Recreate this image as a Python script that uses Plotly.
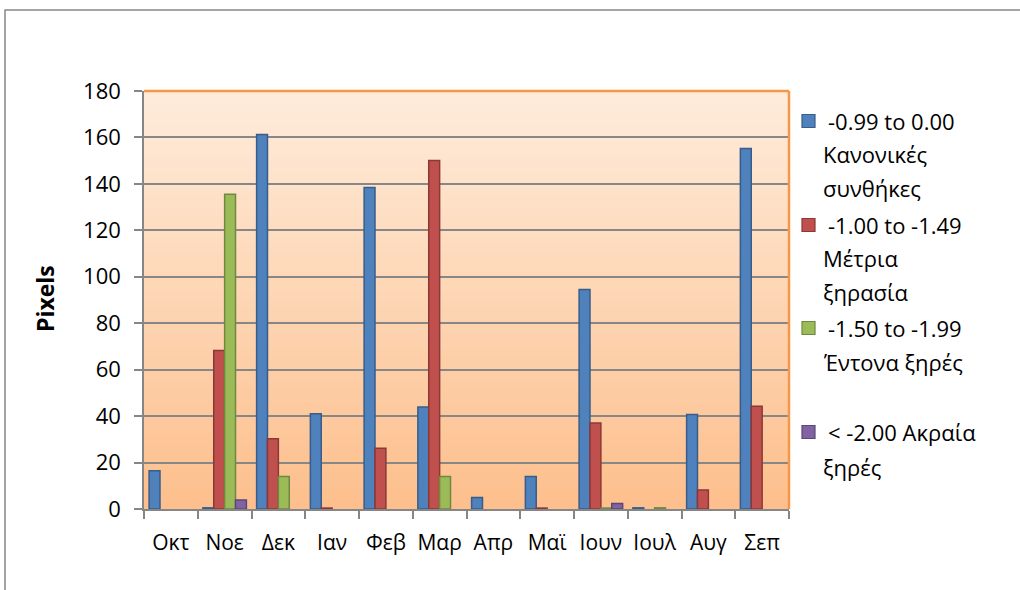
import plotly.graph_objects as go

months = ["Οκτ", "Νοε", "Δεκ", "Ιαν", "Φεβ", "Μαρ", "Απρ", "Μαϊ", "Ιουν", "Ιουλ", "Αυγ", "Σεπ"]

normal = [16.5, 0.5, 161.3, 41, 138.4, 43.9, 4.9, 14, 94.5, 0.5, 40.7, 155.2]
moderate = [None, 68.3, 30.2, 0.4, 26.2, 150.1, None, 0.4, 37, None, 8.2, 44.2]
severe = [None, 135.5, 14, None, None, 14, None, None, 0.4, 0.5, None, None]
extreme = [None, 3.9, None, None, None, None, None, None, 2.4, None, None, None]

series_names = [
    ["-0.99 to 0.00", "Κανονικές", "συνθήκες"],
    ["-1.00 to -1.49", "Μέτρια", "ξηρασία"],
    ["-1.50 to -1.99", "Έντονα ξηρές"],
    ["< -2.00 Ακραία", "ξηρές"],
]
series_values = [normal, moderate, severe, extreme]
fills = ["#4F81BD", "#C0504D", "#9BBB59", "#8064A2"]
edges = ["#385D8A", "#8C3836", "#71893F", "#5C4776"]

FONT = "Open Sans"
W, H = 1020, 590
L, R, T, B = 144, 231, 91, 81
PW, PH = W - L - R, H - T - B


def px(x):
    return (x - L) / PW


def py(y):
    return (H - B - y) / PH


fig = go.Figure()
for names, vals, fc, ec in zip(series_names, series_values, fills, edges):
    fig.add_trace(go.Bar(
        x=months, y=vals, name=" ".join(names),
        marker=dict(color=fc, line=dict(color=ec, width=1.5)),
        showlegend=False,
    ))

shapes = []
# gradient background
n = 60
top = (254, 236, 220)
bot = (253, 191, 140)
for i in range(n):
    t = (i + 0.5) / n
    c = tuple(round(top[k] + (bot[k] - top[k]) * t) for k in range(3))
    shapes.append(dict(type="rect", xref="x domain", yref="y domain",
                       x0=0, x1=1, y0=1 - (i + 1) / n, y1=1 - i / n + 0.002,
                       fillcolor="rgb(%d,%d,%d)" % c, line=dict(width=0), layer="below"))
# orange plot border (top and right)
shapes.append(dict(type="line", xref="x domain", yref="y domain", x0=0, x1=1, y0=1, y1=1,
                   line=dict(color="#F79646", width=2.5), layer="above"))
shapes.append(dict(type="line", xref="x domain", yref="y domain", x0=1, x1=1, y0=0, y1=1,
                   line=dict(color="#F79646", width=2.5), layer="above"))
# outer chart border
shapes.append(dict(type="rect", xref="paper", yref="paper",
                   x0=px(5), x1=px(1040), y0=py(610), y1=py(10),
                   line=dict(color="#888888", width=1.5), fillcolor="rgba(0,0,0,0)"))

annotations = [dict(text="<b>Pixels</b>", xref="paper", yref="paper", x=px(45), y=py(298),
                    textangle=-90, showarrow=False, font=dict(family=FONT, size=23, color="black"),
                    xanchor="center", yanchor="middle")]

# legend drawn manually
line_ys = [[121, 154, 188], [225, 258, 292], [328, 362], [432, 467]]
for names, ys, fc, ec in zip(series_names, line_ys, fills, edges):
    shapes.append(dict(type="rect", xref="paper", yref="paper",
                       x0=px(802), x1=px(815), y0=py(ys[0] + 6.5), y1=py(ys[0] - 6.5),
                       fillcolor=fc, line=dict(color=ec, width=1.2)))
    for j, (txt, yy) in enumerate(zip(names, ys)):
        annotations.append(dict(text=txt, xref="paper", yref="paper",
                                x=px(826 if j == 0 else 821), y=py(yy),
                                xanchor="left", yanchor="middle", showarrow=False,
                                font=dict(family=FONT, size=22, color="black")))

fig.update_layout(
    width=W, height=H,
    margin=dict(l=L, r=R, t=T, b=B, autoexpand=False),
    paper_bgcolor="white", plot_bgcolor="rgba(0,0,0,0)",
    barmode="group", bargap=0.19, bargroupgap=0,
    shapes=shapes, annotations=annotations,
    font=dict(family=FONT, size=22, color="black"),
    xaxis=dict(type="category", tickson="boundaries", ticks="outside", ticklen=8,
               tickcolor="#868686", tickwidth=1.5, showline=True, linecolor="#868686",
               linewidth=1.5, showgrid=False, tickfont=dict(family=FONT, size=21),
               tickangle=0, ticklabelstandoff=14, fixedrange=True),
    yaxis=dict(range=[0, 180], dtick=20, ticks="outside", ticklen=8, tickcolor="#868686",
               tickwidth=1.5, showline=True, linecolor="#868686", linewidth=1.5,
               showgrid=True, gridcolor="#878787", gridwidth=1.5, zeroline=False,
               tickfont=dict(family=FONT, size=22), ticklabelstandoff=9, fixedrange=True),
)

fig.write_html("out.html", config={"displayModeBar": False},
               post_script="document.body.style.margin='0';")
